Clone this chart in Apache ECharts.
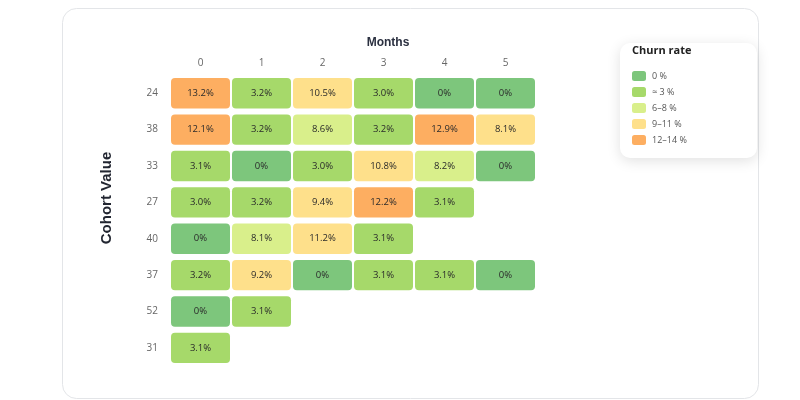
<!DOCTYPE html>
<html>
<head>
<meta charset="utf-8">
<script src="https://cdn.jsdelivr.net/npm/echarts@6/dist/echarts.min.js"></script>
<style>
html,body{margin:0;padding:0;background:#fff;}
#main{width:800px;height:400px;}
</style>
</head>
<body>
<div id="main"></div>
<script>
// ---- data ----
const months = ['0', '1', '2', '3', '4', '5'];
const cohorts = ['24', '38', '33', '27', '40', '37', '52', '31'];
const churn = [
  [13.2, 3.2, 10.5, 3.0, 0, 0],
  [12.1, 3.2, 8.6, 3.2, 12.9, 8.1],
  [3.1, 0, 3.0, 10.8, 8.2, 0],
  [3.0, 3.2, 9.4, 12.2, 3.1],
  [0, 8.1, 11.2, 3.1],
  [3.2, 9.2, 0, 3.1, 3.1, 0],
  [0, 3.1],
  [3.1]
];
// colour bucket of each cell (0..4)
const buckets = [
  [4, 1, 3, 1, 0, 0],
  [4, 1, 2, 1, 4, 3],
  [1, 0, 1, 3, 2, 0],
  [1, 1, 3, 4, 1],
  [0, 2, 3, 1],
  [1, 3, 0, 1, 1, 0],
  [0, 1],
  [1]
];
const bucketLabels = ['0 %', '≈ 3 %', '6–8 %', '9–11 %', '12–14 %'];
const bucketColors = ['#7dc67c', '#a6d96a', '#d9ef8b', '#fee08b', '#fdae61'];

const data = [];
churn.forEach((row, r) => row.forEach((v, c) => data.push([c, r, v, buckets[r][c]])));

const FONT = '"Open Sans", "Noto Sans", sans-serif';
const TFONT = '"Liberation Sans", Arial, sans-serif';
const chart = echarts.init(document.getElementById('main'));
chart.setOption({
  backgroundColor: '#fff',
  textStyle: { fontFamily: FONT },
  graphic: [
    { type: 'rect', left: 62, top: 8, shape: { width: 696, height: 390, r: 14 },
      style: { fill: '#fff', stroke: '#e3e5e8', lineWidth: 1 }, z: -10 },
    { type: 'rect', left: 620, top: 43, shape: { width: 137, height: 115, r: 10 },
      style: { fill: '#fff', shadowBlur: 14, shadowColor: 'rgba(0,0,0,0.12)', shadowOffsetY: 3 }, z: 0 },
    { type: 'text', x: 632, y: 45, style: { text: 'Churn rate', font: 'bold 11px ' + FONT, fill: '#222' }, z: 5 },
    { type: 'text', x: 388, y: 43, style: { text: 'Months', font: 'bold 12px ' + TFONT, fill: '#2b3040', align: 'center', verticalAlign: 'middle' }, z: 5 },
    { type: 'text', x: 107, y: 198, rotation: Math.PI / 2,
      style: { text: 'Cohort Value', font: 'bold 15px ' + TFONT, fill: '#222631', align: 'center', verticalAlign: 'middle' }, z: 5 }
  ],
  grid: { left: 170, top: 75, width: 366, height: 291 },
  xAxis: {
    type: 'category', data: months, position: 'top',
    axisLine: { show: false }, axisTick: { show: false }, splitLine: { show: false },
    axisLabel: { color: '#666', fontSize: 10, margin: 7 }
  },
  yAxis: {
    type: 'category', data: cohorts, inverse: true,
    axisLine: { show: false }, axisTick: { show: false }, splitLine: { show: false },
    axisLabel: { color: '#666', fontSize: 10, margin: 12 }
  },
  visualMap: {
    type: 'piecewise', dimension: 3, seriesIndex: 0,
    pieces: bucketLabels.map((l, i) => ({ value: i, label: l, color: bucketColors[i] })),
    orient: 'vertical', inverse: true, align: 'left', padding: 0,
    left: 632, top: 71, itemWidth: 14, itemHeight: 10, itemGap: 6, itemSymbol: 'roundRect',
    textGap: 6,
    textStyle: { color: '#555', fontSize: 9, fontFamily: FONT },
    selectedMode: false, hoverLink: false, z: 6
  },
  series: [{
    type: 'custom',
    data: data,
    encode: { x: 0, y: 1 },
    renderItem: function (params, api) {
      const p = api.coord([api.value(0), api.value(1)]);
      const s = api.size([1, 1]);
      const w = s[0] - 2, h = s[1] - 6;
      const v = api.value(2);
      return {
        type: 'group',
        children: [
          { type: 'rect', shape: { x: p[0] - w / 2, y: p[1] - h / 2, width: w, height: h, r: 4 },
            style: { fill: api.visual('color') } },
          { type: 'text', style: { x: p[0], y: p[1], text: v === 0 ? '0%' : v.toFixed(1) + '%',
            font: '500 9.5px ' + FONT, fill: '#2a2a2a', align: 'center', verticalAlign: 'middle' } }
        ]
      };
    }
  }]
});
</script>
</body>
</html>
